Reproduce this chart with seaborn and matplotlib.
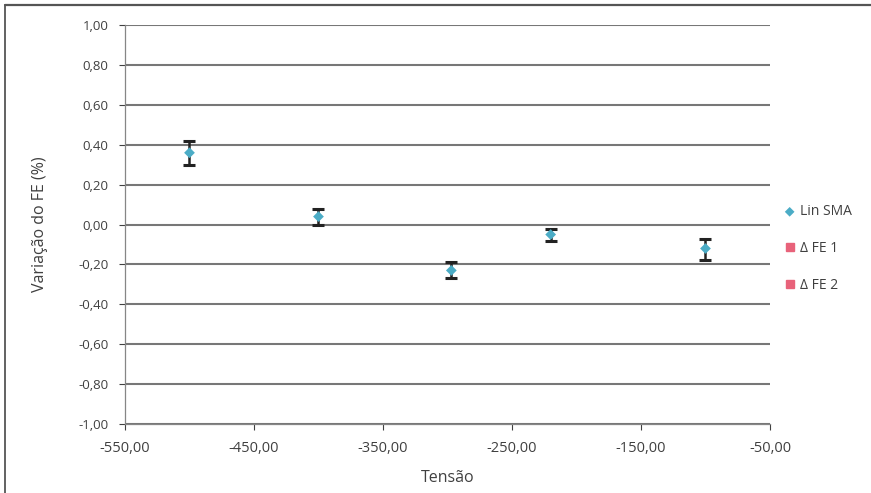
import matplotlib
matplotlib.use("Agg")
import matplotlib.pyplot as plt
import matplotlib.ticker as mticker
from matplotlib.lines import Line2D
import seaborn as sns
import pandas as pd
import numpy as np

# Data
tensao = [-500, -400, -297, -220, -100]
lin_sma = [0.36, 0.04, -0.23, -0.05, -0.12]
err_low = [0.30, 0.00, -0.27, -0.08, -0.18]
err_high = [0.42, 0.08, -0.19, -0.02, -0.07]
fe1_x, fe1_y = [], []
fe2_x, fe2_y = [], []
x_ticks = [-550, -450, -350, -250, -150, -50]
y_ticks = [-1.0, -0.8, -0.6, -0.4, -0.2, 0.0, 0.2, 0.4, 0.6, 0.8, 1.0]

sns.set_theme(style="white")
plt.rcParams['font.family'] = ['Open Sans', 'DejaVu Sans']

fig = plt.figure(figsize=(8.71, 4.93), dpi=100)
ax = fig.add_axes([0.1435, 0.14, 0.7405, 0.809])

df = pd.DataFrame({"Tensão": tensao, "y": lin_sma})
lo = np.array(lin_sma) - np.array(err_low)
hi = np.array(err_high) - np.array(lin_sma)
ax.errorbar(tensao, lin_sma, yerr=[lo, hi], fmt="none", ecolor="#222222",
            elinewidth=1.8, capsize=4.5, capthick=2.2, zorder=3)
sns.scatterplot(data=df, x="Tensão", y="y", ax=ax, marker="D", s=30,
                color="#4bacc6", edgecolor="none", label="Lin SMA", zorder=4)
ax.plot(fe1_x, fe1_y, linestyle="none", marker="s", markersize=6,
        color="#e8627a", label="Δ FE 1")
ax.plot(fe2_x, fe2_y, linestyle="none", marker="s", markersize=6,
        color="#e8627a", label="Δ FE 2")

ax.set_xlim(-550, -50)
ax.set_ylim(-1.0, 1.0)
ax.set_xticks(x_ticks)
ax.set_yticks(y_ticks)
fmt = mticker.FuncFormatter(lambda v, p: f"{v:.2f}".replace(".", ",").replace("-0,00", "0,00"))
ax.xaxis.set_major_formatter(fmt)
ax.yaxis.set_major_formatter(fmt)
ax.tick_params(axis="both", colors="#404040", length=4,
               width=0.8, direction="out", bottom=True, left=True)
ax.tick_params(axis="x", labelsize=10.5, pad=8)
ax.tick_params(axis="y", labelsize=9.5, pad=8)
ax.grid(axis="y", color="#777777", linewidth=1.5)
ax.grid(axis="x", visible=False)
for side in ["top", "right"]:
    ax.spines[side].set_visible(False)
for side in ["left", "bottom"]:
    ax.spines[side].set_color("#868686")
    ax.spines[side].set_linewidth(0.9)
ax.set_xlabel("Tensão", fontsize=11.5, color="#404040", labelpad=10)
ax.set_ylabel("Variação do FE (%)", fontsize=11.5, color="#404040", labelpad=22)

ax.legend(loc="center left", bbox_to_anchor=(0.995, 0.44), frameon=False,
          fontsize=10, handletextpad=0.0, handlelength=1.5, labelspacing=1.55,
          markerscale=0.9, labelcolor="#404040")

fig.add_artist(Line2D([0.006, 0.006], [0.0, 0.99], transform=fig.transFigure,
                      color="#555555", linewidth=1.3))
fig.add_artist(Line2D([0.006, 1.0], [0.99, 0.99], transform=fig.transFigure,
                      color="#555555", linewidth=1.6))
fig.savefig("out.png", dpi=100)
